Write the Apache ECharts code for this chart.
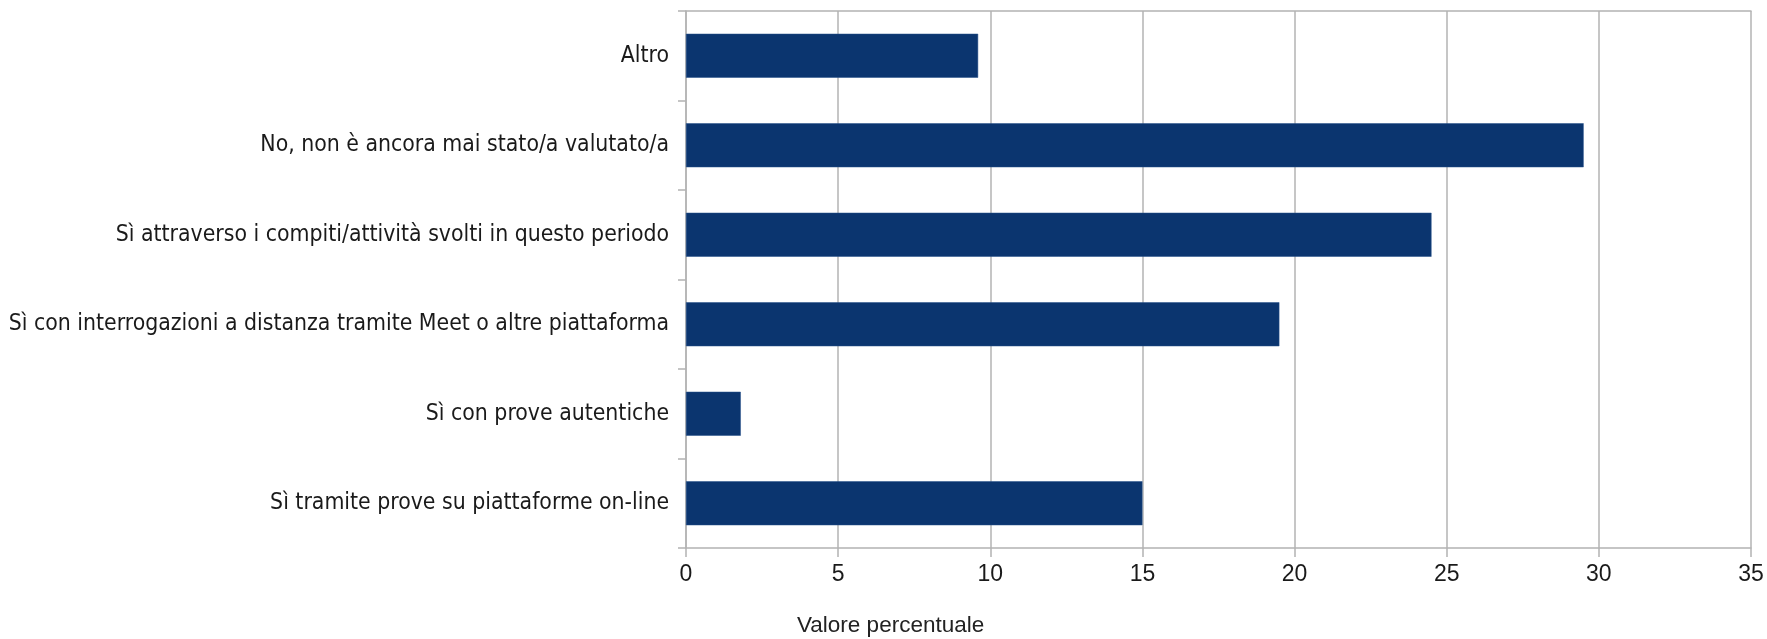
<!DOCTYPE html>
<html>
<head>
<meta charset="utf-8">
<script src="https://cdn.jsdelivr.net/npm/echarts@6/dist/echarts.min.js"></script>
<style>
html,body{margin:0;padding:0;background:#fff;}
#chart{width:1767px;height:639px;}
</style>
</head>
<body>
<div id="chart"></div>
<script>
// Categories top-to-bottom as shown
const categories = [
  "Altro",
  "No, non è ancora mai stato/a valutato/a",
  "Sì attraverso i compiti/attività svolti in questo periodo",
  "Sì con interrogazioni a distanza tramite Meet o altre piattaforma",
  "Sì con prove autentiche",
  "Sì tramite prove su piattaforme on-line"
];
const values = [9.6, 29.5, 24.5, 19.5, 1.8, 15.0];
const axisTitle = "Valore percentuale";
const xMin = 0, xMax = 35, xStep = 5;

const chart = echarts.init(document.getElementById('chart'), null, {renderer:'canvas'});
const gray = '#b3b3b3';
chart.setOption({
  animation: false,
  backgroundColor: '#ffffff',
  title: {
    text: axisTitle,
    left: 792, top: 609,
    textStyle: {fontFamily: 'Liberation Sans', fontSize: 22.5, fontWeight: 'normal', color: '#222'}
  },
  grid: {left: 686, right: 16, top: 11, bottom: 91, show: false},
  xAxis: [{
    type: 'value', min: xMin, max: xMax, interval: xStep,
    axisLine: {show: true, lineStyle: {color: gray, width: 1.5}},
    axisTick: {show: true, length: 9, lineStyle: {color: gray, width: 1.5}},
    axisLabel: {margin: 15, fontFamily: 'Liberation Sans', fontSize: 23, color: '#1a1a1a'},
    splitLine: {show: true, lineStyle: {color: gray, width: 1.5}}
  }, {
    type: 'value', position: 'top', min: xMin, max: xMax, interval: xStep,
    axisLine: {show: true, lineStyle: {color: gray, width: 1.5}},
    axisTick: {show: false}, axisLabel: {show: false}, splitLine: {show: false}
  }],
  yAxis: {
    type: 'category', data: categories, inverse: true,
    axisLine: {show: true, lineStyle: {color: gray, width: 1.5}},
    axisTick: {show: true, length: 8, lineStyle: {color: gray, width: 1.5}},
    axisLabel: {margin: 17, fontFamily: "'Liberation Sans Narrow','DejaVu Sans Condensed','Roboto Condensed',Roboto,sans-serif", fontSize: 22.8, color: '#1a1a1a'},
    splitLine: {show: false}
  },
  series: [{
    type: 'bar', data: values, barWidth: 44,
    itemStyle: {color: '#0b356f', borderColor: '#27508a', borderWidth: 0.5}
  }]
});
</script>
</body>
</html>
